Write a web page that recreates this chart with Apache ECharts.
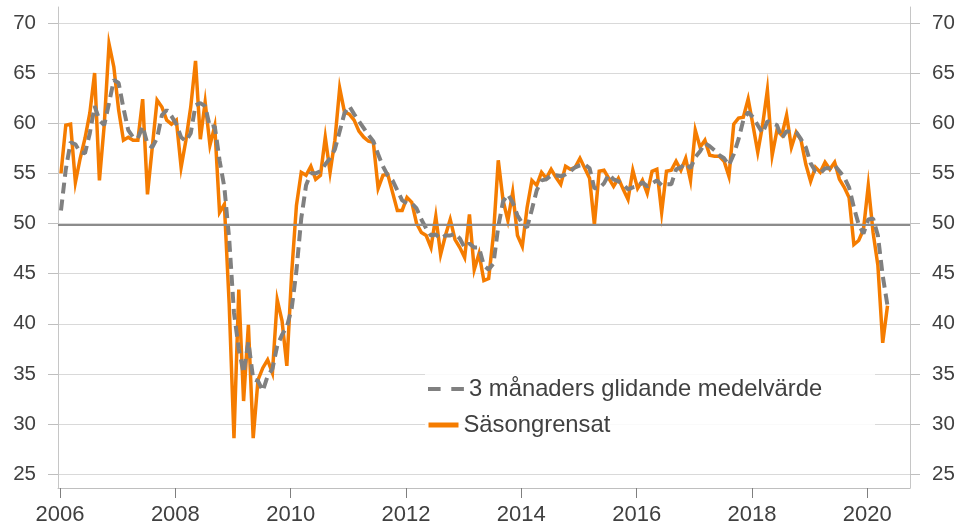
<!DOCTYPE html>
<html>
<head>
<meta charset="utf-8">
<script src="https://cdn.jsdelivr.net/npm/echarts@6/dist/echarts.min.js"></script>
<style>
html, body {margin: 0; padding: 0; background: #fff;}
#main {width: 959px; height: 526px;}
</style>
</head>
<body>
<div id="main"></div>
<script>
// månadsdata från januari 2006
var startYear = 2006;
var yearTicks = [2006, 2008, 2010, 2012, 2014, 2016, 2018, 2020];
var valueTicks = [25, 30, 35, 40, 45, 50, 55, 60, 65, 70];
var seriesNames = ['3 månaders glidande medelvärde', 'Säsongrensat'];

// Säsongrensat
var sasong = [
    55.0, 59.8, 59.9, 54.1, 56.5, 58.5, 61.0, 65.0, 54.3, 59.8, 67.9, 65.6,
    61.3, 58.3, 58.6, 58.3, 58.3, 62.4, 52.9, 57.6, 62.3, 61.6, 60.3, 59.9,
    60.3, 55.6, 58.3, 61.6, 66.2, 58.4, 62.1, 57.8, 59.7, 51.1, 51.9, 42.0,
    28.6, 43.4, 32.3, 39.9, 28.6, 34.4, 35.6, 36.4, 35.1, 42.4, 40.3, 35.8,
    45.0, 51.8, 55.1, 54.8, 55.7, 54.4, 54.8, 58.6, 55.1, 58.3, 63.5, 61.1,
    60.9, 60.3, 59.2, 58.6, 58.2, 58.1, 53.5, 54.8, 54.9, 53.1, 51.3, 51.3,
    52.6, 52.1, 50.0, 49.1, 48.8, 47.6, 50.7, 46.9, 48.8, 50.4, 48.4, 47.6,
    46.6, 50.9, 45.4, 47.0, 44.3, 44.5, 48.9, 56.3, 52.3, 50.3, 53.1, 48.8,
    47.7, 51.6, 54.3, 53.8, 55.1, 54.5, 55.4, 54.6, 53.9, 55.7, 55.4, 55.6,
    56.5, 55.5, 54.5, 49.9, 55.2, 55.3, 54.5, 53.7, 54.5, 53.4, 52.4, 55.3,
    53.5, 54.3, 53.0, 55.2, 55.4, 51.1, 55.2, 55.3, 56.2, 55.3, 56.5, 54.3,
    59.3, 57.6, 58.3, 56.8, 56.7, 56.7, 56.2, 54.7, 59.9, 60.5, 60.6, 62.4,
    59.8, 57.1, 59.8, 63.3, 56.8, 59.3, 58.8, 60.8, 57.6, 59.1, 58.3, 55.9,
    54.2, 55.6, 55.1, 56.1, 55.4, 56.1, 54.4, 53.6, 52.6, 47.9, 48.3, 49.4,
    53.8, 49.1, 45.8, 38.1, 41.8
];

// 3 månaders glidande medelvärde
var medel3 = [
    51.3, 55.4, 58.1, 57.9, 57.1, 57.0, 59.0, 61.7, 60.3, 59.8, 62.0, 64.3,
    64.0, 61.5, 59.3, 58.6, 58.5, 59.7, 57.9, 57.6, 58.5, 60.8, 61.3, 60.7,
    59.9, 58.6, 58.2, 59.0, 61.8, 62.0, 61.7, 59.6, 59.7, 56.3, 53.6, 48.5,
    41.1, 37.5, 35.1, 38.2, 34.5, 34.3, 33.3, 34.8, 35.5, 37.8, 38.9, 39.7,
    41.5, 45.3, 50.5, 53.8, 55.0, 55.0, 55.2, 55.9, 56.5, 57.4, 59.2, 61.0,
    61.7, 60.9, 60.2, 59.5, 58.8, 58.2, 56.9, 55.7, 54.8, 54.3, 53.3, 52.3,
    52.0, 52.0, 51.5, 50.4, 49.5, 48.8, 48.9, 48.5, 48.8, 48.8, 49.0, 48.5,
    47.6, 48.0, 47.6, 47.6, 45.8, 45.4, 46.0, 49.7, 52.2, 52.9, 52.1, 50.8,
    50.0, 49.6, 51.4, 53.3, 54.3, 54.4, 54.8, 54.8, 54.7, 54.9, 55.2, 55.6,
    55.8, 55.9, 55.5, 53.5, 53.5, 54.0, 54.9, 54.4, 54.2, 53.9, 53.4, 53.6,
    53.7, 54.1, 53.7, 54.0, 54.3, 53.8, 53.9, 53.9, 55.4, 55.6, 56.0, 55.5,
    56.6, 57.2, 58.0, 57.7, 57.3, 56.8, 56.5, 55.8, 56.9, 58.4, 60.3, 61.1,
    60.6, 59.8, 59.0, 60.2, 60.0, 59.8, 58.5, 59.2, 59.1, 59.1, 58.4, 57.6,
    56.0, 55.2, 55.0, 55.5, 55.5, 55.8, 55.2, 54.6, 53.6, 51.6, 49.9, 49.0,
    50.4, 50.5, 48.8, 44.8, 41.8
];

var fontFam = '"Liberation Sans", Arial, sans-serif';

// månadsindex -> år med decimaler
function toXY(arr) {
    var out = [];
    for (var i = 0; i < arr.length; i++) {
        out.push([startYear + (i + 0.2) / 12, arr[i]]);
    }
    return out;
}

function yAxisOpt(pos) {
    return {
        type: 'value',
        position: pos,
        min: 23.63,
        max: 71.58,
        axisLine: {show: true, onZero: false, lineStyle: {color: '#c6c6c6', width: 1}},
        axisTick: {show: true, length: 10, customValues: valueTicks, lineStyle: {color: '#bfbfbf'}},
        axisLabel: {
            customValues: valueTicks, fontSize: 20.5, color: '#404040', margin: 22, fontFamily: fontFam
        },
        splitLine: {show: pos === 'left', lineStyle: {color: '#d9d9d9', width: 1}}
    };
}

var legendText = {fontSize: 23.8, color: '#404040', fontFamily: fontFam, lineHeight: 26};

var chart = echarts.init(document.getElementById('main'), null, {renderer: 'canvas'});
chart.setOption({
    animation: false,
    grid: {left: 58, right: 49, top: 7, bottom: 38},
    xAxis: {
        type: 'value',
        min: 2005.965,
        max: 2020.74,
        axisLine: {show: true, onZero: false, lineStyle: {color: '#bfbfbf', width: 1}},
        axisTick: {show: true, length: 10, customValues: yearTicks, lineStyle: {color: '#7f7f7f'}},
        axisLabel: {
            customValues: yearTicks, fontSize: 22, color: '#404040', margin: 16, fontFamily: fontFam,
            formatter: function (v) { return String(Math.round(v)); }
        },
        splitLine: {show: false}
    },
    yAxis: [yAxisOpt('left'), yAxisOpt('right')],
    legend: [{
        data: [seriesNames[0]],
        left: 426, top: 376, padding: 0,
        itemWidth: 36, itemHeight: 14,
        itemStyle: {opacity: 0},
        lineStyle: {type: [12.6, 10.7], width: 4, color: '#808080'},
        textStyle: legendText
    }, {
        data: [seriesNames[1]],
        left: 426, top: 412, padding: 0,
        itemWidth: 30, itemHeight: 14,
        itemStyle: {opacity: 0},
        lineStyle: {width: 5, color: '#f57c00'},
        textStyle: legendText
    }],
    graphic: [{
        type: 'rect', left: 425, top: 372, z: 1,
        shape: {width: 450, height: 61},
        style: {fill: 'rgba(255,255,255,0.85)'}
    }],
    series: [{
        name: seriesNames[1],
        type: 'line',
        data: toXY(sasong),
        symbol: 'none',
        showSymbol: false,
        z: 2,
        lineStyle: {color: '#f57c00', width: 3.5, join: 'miter'},
        itemStyle: {color: '#f57c00'},
        markLine: {
            silent: true,
            symbol: ['none', 'none'],
            label: {show: false},
            lineStyle: {color: '#8c8c8c', width: 2, type: 'solid'},
            data: [{yAxis: 49.9}]
        }
    }, {
        name: seriesNames[0],
        type: 'line',
        data: toXY(medel3),
        symbol: 'none',
        showSymbol: false,
        z: 3,
        lineStyle: {color: '#808080', width: 4, type: [11, 6]},
        itemStyle: {color: '#808080'}
    }]
});
</script>
</body>
</html>
